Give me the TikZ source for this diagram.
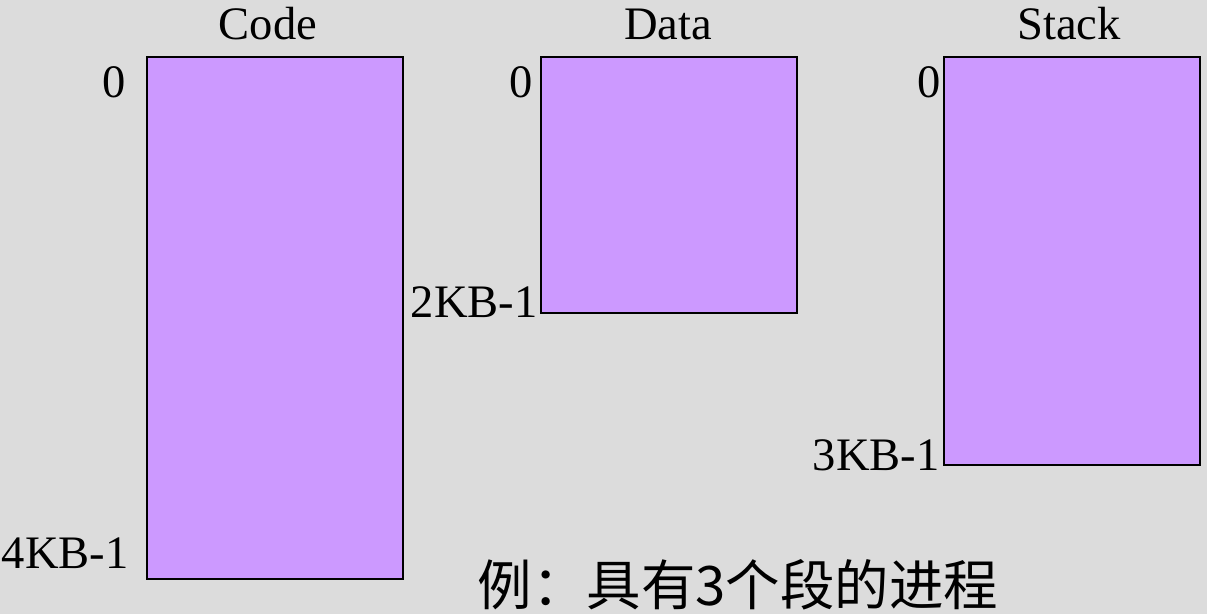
\documentclass[tikz,border=0pt]{standalone}
\usepackage{fontspec}
\setmainfont{Liberation Serif}
\newfontfamily\cjk{Noto Sans CJK SC}
\definecolor{bggray}{HTML}{DCDCDC}
\definecolor{segfill}{HTML}{CC99FF}
\tikzset{
  seg/.style={draw=black, fill=segfill, line width=1.1pt, anchor=north west, inner sep=0pt},
  lbl/.style={font=\fontsize{26.5}{30}\selectfont, inner sep=0pt}
}
\begin{document}
\begin{tikzpicture}[x=0.02cm,y=-0.02cm]
            \fill[bggray] (0,0) rectangle (1207,614);
            \useasboundingbox (0,0) rectangle (1207,614);
            % segments
            \node[seg, minimum width=5.12cm, minimum height=10.44cm] (code) at (146,56) {};   %code
            \node[seg, minimum width=5.12cm, minimum height=5.12cm] (data) at (540,56) {};    %data
            \node[seg, minimum width=5.12cm, minimum height=8.16cm] (stack) at (943,56) {};   %stack
            % titles
            \node[lbl] (codet) at (268,24) {Code};
            \node[lbl] (datat) at (668,24) {Data};
            \node[lbl] (stackt) at (1069,24) {Stack};
            % offsets
            \node[lbl, anchor=east] (code0) at (126,82) {0};
            \node[lbl, anchor=east] (codeend) at (129,553) {4KB-1};
            \node[lbl, anchor=east] (data0) at (533,82) {0};
            \node[lbl, anchor=east] (dataend) at (538,302) {2KB-1};
            \node[lbl, anchor=east] (stack0) at (941,82) {0};
            \node[lbl, anchor=east] (stackend) at (940,455) {3KB-1};
            % caption
            \node[lbl, font=\cjk\fontsize{31}{35}\selectfont] (caption) at (738,585) {例：具有3个段的进程};
        \end{tikzpicture}
\end{document}
